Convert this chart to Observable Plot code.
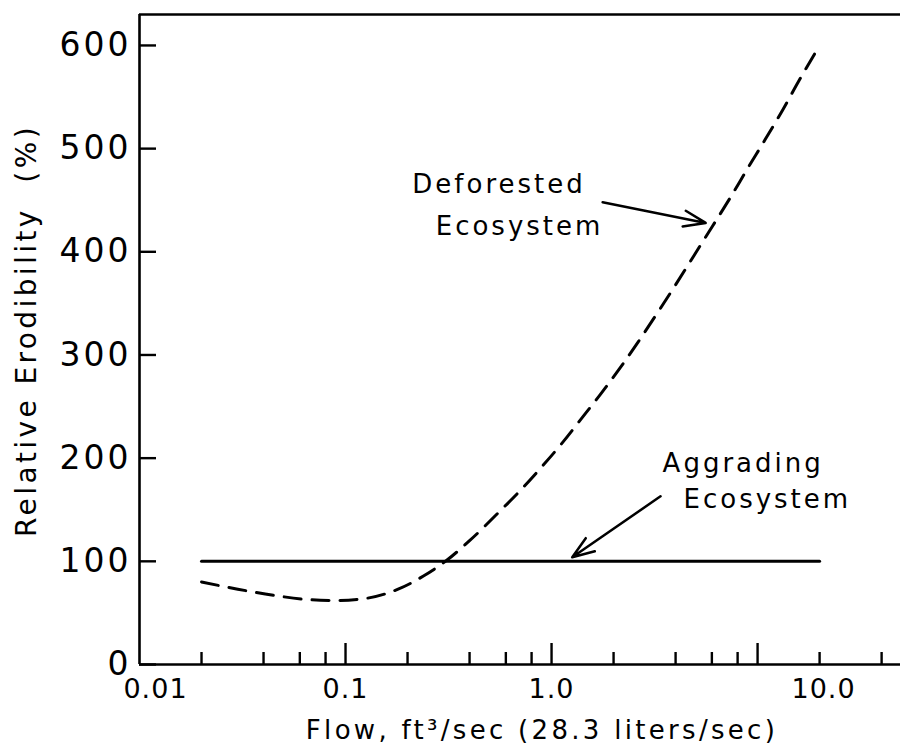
<!DOCTYPE html>
<html><head><meta charset="utf-8">
<script src="https://cdn.jsdelivr.net/npm/d3@7"></script>
<script src="https://cdn.jsdelivr.net/npm/@observablehq/plot@0.6"></script>
<style>
html,body{margin:0;padding:0;background:#fff;}
</style></head><body><div id="chart"></div>
<script>
// Aggrading ecosystem (solid)
const aggradingFlow = [0.02, 20];
const aggradingErod = [100, 100];
// Deforested ecosystem (dashed)
const deforestedFlow = [0.02, 0.03, 0.045, 0.065, 0.09, 0.125, 0.18, 0.24, 0.31, 0.4, 0.57, 0.7, 0.9, 1.14, 1.43, 1.73, 2.16, 2.64, 3.27, 4.0, 4.9, 6.05, 7.4, 8.9, 10.9, 13.2, 15.8, 20];
const deforestedErod = [80, 73, 67, 63, 62, 64, 73, 86, 101, 120, 150, 168, 192, 216, 241, 262, 288, 313, 341, 368, 396, 425, 453, 480, 509, 537, 565, 600];
// Axes
const yTicks = [0, 100, 200, 300, 400, 500, 600];
const xMajorTicks = [0.1, 1, 10];
const xMinorTicks = [0.02, 0.04, 0.06, 0.08, 0.2, 0.4, 0.6, 0.8, 2, 4, 6, 8, 20, 40];
const xTickValues = [0.01, 0.1, 1, 10];
const xTickLabels = ["0.01", "0.1", "1.0", "10.0"];
const xTitle = "Flow, ft\u00b3/sec (28.3 liters/sec)";
const yTitle = "Relative Erodibility \u00a0(%)";
// Annotations
const annoText = ["Deforested", "Ecosystem", "Aggrading", "Ecosystem"];
const annoFlow = [0.211, 0.274, 3.46, 4.37];
const annoErod = [465, 424, 195, 160];
const arrowFromFlow = [1.77, 3.38];
const arrowFromErod = [448, 163];
const arrowToFlow = [5.6, 1.26];
const arrowToErod = [428, 104];

const aggr = aggradingFlow.map((f, i) => ({flow: f, erod: aggradingErod[i]}));
const defo = deforestedFlow.map((f, i) => ({flow: f, erod: deforestedErod[i]}));
const anno = annoText.map((t, i) => ({text: t, flow: annoFlow[i], erod: annoErod[i]}));
const arrows = arrowFromFlow.map((f, i) => ({x1: f, y1: arrowFromErod[i], x2: arrowToFlow[i], y2: arrowToErod[i]}));
const xl = xTickValues.map((v, i) => ({v, t: xTickLabels[i]}));

const FONT = "DejaVu Sans";
const chart = Plot.plot({
  width: 900, height: 749,
  marginLeft: 139, marginRight: 0, marginTop: 14, marginBottom: 85,
  style: {fontFamily: FONT, background: "#fff", color: "#000"},
  x: {type: "log", domain: [0.01, 49.4]},
  y: {domain: [0, 630]},
  marks: [
    // frame lines
    Plot.ruleX([0.01], {stroke: "#000", strokeWidth: 2.6}),
    Plot.ruleY([0, 630], {stroke: "#000", strokeWidth: 2.6}),
    // y ticks (inward) and labels
    Plot.axisY({ticks: yTicks, tickSize: -17, tickFormat: () => "", label: null, strokeWidth: 2.4, stroke: "#000"}),
    Plot.axisY({ticks: yTicks, tickSize: 0, tickPadding: 8, label: null, fontSize: 33, fill: "#000"}),
    // x ticks (inward)
    Plot.axisX({ticks: xMinorTicks, tickSize: -12, tickFormat: () => "", label: null, strokeWidth: 2.4, stroke: "#000"}),
    Plot.axisX({ticks: xMajorTicks, tickSize: -21, tickFormat: () => "", label: null, strokeWidth: 2.4, stroke: "#000"}),
    // x tick labels
    Plot.text(xl.filter(d => d.v === 0.1 || d.v === 1), {x: "v", text: "t", frameAnchor: "bottom", lineAnchor: "top", dy: 14, fontSize: 27, fill: "#000"}),
    Plot.text(xl.filter(d => d.v === 0.01), {x: "v", text: "t", frameAnchor: "bottom", lineAnchor: "top", dy: 14, dx: 16, fontSize: 27, fill: "#000"}),
    Plot.text(xl.filter(d => d.v === 10), {x: "v", text: "t", frameAnchor: "bottom", lineAnchor: "top", dy: 14, dx: 66, fontSize: 27, fill: "#000"}),
    // axis titles
    Plot.text([xTitle], {frameAnchor: "bottom", textAnchor: "middle", lineAnchor: "middle", dy: 66, dx: 22, fontSize: 26, fill: "#000"}),
    Plot.text([yTitle], {frameAnchor: "left", textAnchor: "middle", rotate: -90, dx: -112, dy: -9, fontSize: 28, fill: "#000"}),
    // data lines
    Plot.line(aggr, {x: "flow", y: "erod", stroke: "#000", strokeWidth: 3}),
    Plot.line(defo, {x: "flow", y: "erod", stroke: "#000", strokeWidth: 3, strokeDasharray: "17,11", curve: "monotone-x"}),
    // annotations
    Plot.text(anno, {x: "flow", y: "erod", text: "text", textAnchor: "start", fontSize: 26, fill: "#000"}),
    Plot.arrow(arrows, {x1: "x1", y1: "y1", x2: "x2", y2: "y2", stroke: "#000", strokeWidth: 2.5, headLength: 14, headAngle: 40})
  ]
});
// letter spacing to mimic the wide plotter lettering
const yTickStr = new Set(yTicks.map(String));
const xTickStr = new Set(xTickLabels);
const annoStr = new Set(annoText);
d3.select(chart).selectAll("text").each(function() {
  const t = this.textContent;
  let ls = null;
  if (yTickStr.has(t)) ls = "3px";
  else if (xTickStr.has(t)) ls = "1px";
  else if (annoStr.has(t)) ls = "3px";
  else if (t === xTitle) ls = "3.3px";
  else if (t === yTitle) ls = "3.4px";
  if (ls) this.style.letterSpacing = ls;
});
document.getElementById("chart").appendChild(chart);
</script>
</body></html>
